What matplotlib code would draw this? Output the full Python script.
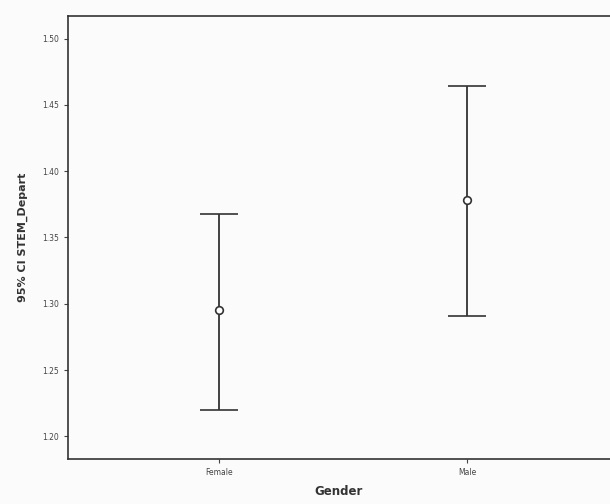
import matplotlib.pyplot as plt
import numpy as np

# values
genders = ["Female", "Male"]
means = [1.295, 1.378]
ci_low = [1.220, 1.291]
ci_high = [1.368, 1.464]
yticks = [1.20, 1.25, 1.30, 1.35, 1.40, 1.45, 1.50]

fig = plt.figure(figsize=(6.10, 5.04), dpi=100)
fig.patch.set_facecolor("#fbfbfb")
ax = fig.add_axes([0.1115, 0.0893, 0.8885, 0.879])
ax.set_facecolor("#fbfbfb")

x = np.arange(len(genders))
means = np.array(means)
lower = means - np.array(ci_low)
upper = np.array(ci_high) - means
ax.errorbar(x, means, yerr=[lower, upper], fmt="o", color="#333333",
            ecolor="#333333", elinewidth=1.3, capsize=14, capthick=1.4,
            markersize=5.5, markerfacecolor="white", markeredgewidth=1.2)

ax.set_xlim(-0.609, 1.577)
ax.set_ylim(1.183, 1.517)
ax.set_xticks(x)
ax.set_xticklabels(genders, fontsize=5.5, color="#444444")
ax.set_yticks(yticks)
ax.set_yticklabels([f"{v:.2f}" for v in yticks], fontsize=5.5, color="#444444")
ax.tick_params(axis="both", length=3, width=0.8, color="#444444", direction="out")

ax.set_xlabel("Gender", fontsize=8.5, fontweight="bold", color="#333333", labelpad=6)
ax.set_ylabel("95% CI STEM_Depart", fontsize=8, fontweight="bold", color="#333333",
              labelpad=10)

for side in ["left", "bottom", "top"]:
    ax.spines[side].set_color("#333333")
    ax.spines[side].set_linewidth(1.2)
ax.spines["right"].set_visible(False)

fig.savefig("out.png", dpi=100, facecolor=fig.get_facecolor())
